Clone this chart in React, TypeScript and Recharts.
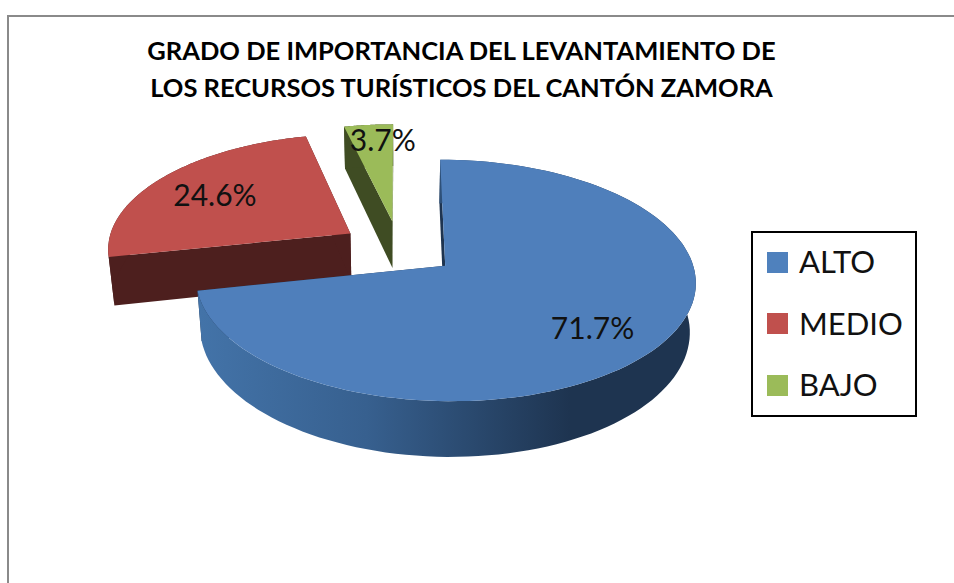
import React from 'react'
import { PieChart, Pie, Legend } from 'recharts'

// drawn back to front, so the big slice ends up on top of the others
const categories = ['BAJO', 'MEDIO', 'ALTO']
const values = [3.7, 24.6, 71.7]
const colors = ['#9bbb59', '#c0504d', '#4f7fbb']
const darkColors = ['#3f4c23', '#4d1f1e', '#1e3450']

const legendNames = ['ALTO', 'MEDIO', 'BAJO']
const legendColors = ['#4f81bd', '#c0504d', '#9bbb59']

const titleLines = [
    'GRADO DE IMPORTANCIA DEL LEVANTAMIENTO DE',
    'LOS RECURSOS TURÍSTICOS DEL CANTÓN ZAMORA',
]

const FONT = 'Lato, "Open Sans", sans-serif'
const SQUASH = 0.471 // vertical radius / horizontal radius
const PERSPECTIVE = 0.12
const EXPLODE = 0.24
const DEPTH = 48

const chartData = categories.map((name, i) => ({
    name,
    value: values[i],
    fill: colors[i],
    dark: darkColors[i],
}))

const rad = (deg: number) => (deg * Math.PI) / 180

// takes a point on the pie plane (units of radius, y away from viewer) to the screen
const project = (cx: number, cy: number, r: number, X: number, Y: number, low = false) => {
    const w = 1 + PERSPECTIVE * Y
    const x = cx + (r * X) / (w + (low ? 0.02 : 0))
    const y = cy - (r * SQUASH * Y) / w + (low ? DEPTH / w : 0)
    return [x, y]
}

const toPath = (pts: number[][]) =>
    'M' + pts.map((p) => `${p[0].toFixed(1)},${p[1].toFixed(1)}`).join('L') + 'Z'

const Slice3D = (props: any) => {
    const { cx, cy, outerRadius: r, startAngle, endAngle, midAngle, fill, dark, name } = props
    const mid = 90 - midAngle
    const ox = EXPLODE * Math.sin(rad(mid))
    const oy = EXPLODE * Math.cos(rad(mid))
    const from = 90 - endAngle
    const to = 90 - startAngle

    const arc = (low: boolean) => {
        const pts: number[][] = []
        for (let i = 0; i <= 120; i++) {
            const t = rad(from + ((to - from) * i) / 120)
            pts.push(project(cx, cy, r, ox + Math.sin(t), oy + Math.cos(t), low))
        }
        return pts
    }
    const top = arc(false)
    const bottom = arc(true)
    const apexTop = project(cx, cy, r, ox, oy)
    const apexLow = project(cx, cy, r, ox, oy, true)
    const isBig = name === 'ALTO'
    const gradId = `wall-${name}`

    return (
        <g>
            {isBig && (
                <defs>
                    <linearGradient id={gradId} gradientUnits="userSpaceOnUse" x1={200} y1={0} x2={570} y2={0}>
                        <stop offset="0" stopColor="#4373a8" />
                        <stop offset="0.45" stopColor="#37608f" />
                        <stop offset="1" stopColor={dark} />
                    </linearGradient>
                </defs>
            )}
            <path d={toPath([apexTop, top[0], bottom[0], apexLow])} fill={dark} />
            <path d={toPath([apexTop, top[120], bottom[120], apexLow])} fill={dark} />
            <path d={toPath([...top, ...[...bottom].reverse()])} fill={isBig ? `url(#${gradId})` : dark} />
            <path d={toPath([apexTop, ...top])} fill={fill} />
        </g>
    )
}

const renderLabel = (props: any) => {
    const { cx, cy, outerRadius: r, midAngle, percent, name } = props
    const mid = rad(90 - midAngle)
    const dist = EXPLODE + (name === 'BAJO' ? 0.85 : 0.71)
    const [x, y] = project(cx, cy, r, dist * Math.sin(mid), dist * Math.cos(mid))
    // nudges so the labels sit where the original placed them
    const dx = name === 'BAJO' ? 11 : 0
    const dy = name === 'ALTO' ? 5 : 1
    return (
        <text x={x + dx} y={y + dy} textAnchor="middle" dominantBaseline="central" fontFamily={FONT} fontSize={30} fill="#111">
            {(percent * 100).toFixed(1)}%
        </text>
    )
}

const LegendBox = () => (
    <div
        style={{
            boxSizing: 'border-box',
            width: 166,
            height: 186,
            border: '2px solid #000',
            background: '#fff',
            position: 'relative',
        }}
    >
        {legendNames.map((name, i) => (
            <div key={name} style={{ position: 'absolute', left: 14, top: 9 + i * 61.5, height: 40, display: 'flex', alignItems: 'center' }}>
                <span style={{ width: 21, height: 21, background: legendColors[i], display: 'block' }} />
                <span style={{ marginLeft: 11, marginTop: -2, fontFamily: FONT, fontSize: 31, color: '#111', lineHeight: '40px' }}>{name}</span>
            </div>
        ))}
    </div>
)

export default function App() {
    return (
        <div style={{ position: 'absolute', left: 0, top: 0, width: 954, height: 583, overflow: 'hidden', background: '#fff' }}>
            <div style={{ position: 'absolute', left: 7, top: 15, width: 1000, height: 700, border: '2px solid #8a8a8a' }} />
            <div
                style={{
                    position: 'absolute',
                    left: 0,
                    top: 32,
                    width: 923,
                    textAlign: 'center',
                    fontFamily: FONT,
                    fontWeight: 700,
                    fontSize: 25.5,
                    lineHeight: '37px',
                    color: '#000',
                }}
            >
                {titleLines.map((line) => (
                    <div key={line}>{line}</div>
                ))}
            </div>
            <div style={{ position: 'absolute', left: 0, top: 0 }}>
                <PieChart width={954} height={583} margin={{ top: 0, right: 0, bottom: 0, left: 0 }}>
                    <Pie
                        data={chartData}
                        dataKey="value"
                        nameKey="name"
                        cx={399}
                        cy={248}
                        outerRadius={243.5}
                        startAngle={90}
                        endAngle={450}
                        stroke="none"
                        shape={Slice3D}
                        label={renderLabel}
                        labelLine={false}
                        isAnimationActive={false}
                    />
                    <Legend
                        content={<LegendBox />}
                        layout="vertical"
                        wrapperStyle={{ position: 'absolute', left: 751, top: 231, width: 166, height: 186 }}
                    />
                </PieChart>
            </div>
        </div>
    )
}
